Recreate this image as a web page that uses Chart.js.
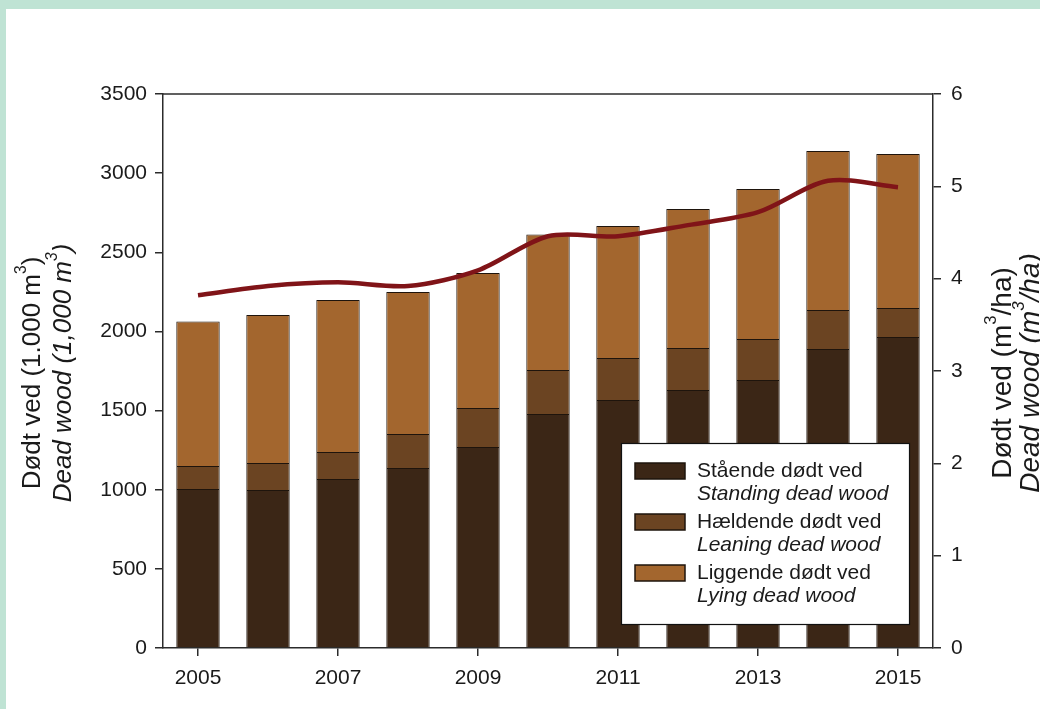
<!DOCTYPE html>
<html>
<head>
<meta charset="utf-8">
<script src="https://cdn.jsdelivr.net/npm/chart.js@4.4.1/dist/chart.umd.min.js"></script>
<style>
  html, body { margin: 0; padding: 0; background: #bfe3d4; width: 1040px; height: 709px; overflow: hidden; }
  #panel { position: absolute; left: 6px; top: 9px; width: 1034px; height: 700px; background: #fff; }
</style>
</head>
<body>
<div id="panel"><canvas id="chart" width="1034" height="700"></canvas></div>
<script>
// data
const years = ['2005', '2006', '2007', '2008', '2009', '2010', '2011', '2012', '2013', '2014', '2015'];
const standing = [1005, 998, 1068, 1137, 1270, 1478, 1567, 1630, 1693, 1889, 1965];
const leaning = [145, 171, 170, 215, 246, 278, 265, 265, 259, 246, 183];
const lying = [912, 935, 960, 897, 853, 856, 834, 878, 948, 1005, 973];
const perHa = [3.82, 3.92, 3.96, 3.92, 4.09, 4.46, 4.46, 4.58, 4.72, 5.06, 4.99];

const legendDa = ['Stående dødt ved', 'Hældende dødt ved', 'Liggende dødt ved'];
const legendEn = ['Standing dead wood', 'Leaning dead wood', 'Lying dead wood'];

const FONT = '"Liberation Sans", Arial, sans-serif';
const AXIS = '#2b2b2b';
const colors = ['#3b2616', '#6b4422', '#a3662e'];

// draws "pre" + superscript + "post" centred on x=0
function supText(ctx, pre, sup, post, size, italic) {
  const f = (s) => (italic ? 'italic ' : '') + s + 'px ' + FONT;
  ctx.font = f(size);
  const w1 = ctx.measureText(pre).width;
  const w3 = ctx.measureText(post).width;
  ctx.font = f(size * 0.6);
  const w2 = ctx.measureText(sup).width;
  let x = -(w1 + w2 + w3) / 2;
  ctx.textAlign = 'left';
  ctx.textBaseline = 'middle';
  ctx.font = f(size);
  ctx.fillText(pre, x, 0);
  x += w1;
  ctx.font = f(size * 0.6);
  ctx.fillText(sup, x, -size * 0.42);
  x += w2;
  ctx.font = f(size);
  ctx.fillText(post, x, 0);
}

function vText(ctx, x, y, pre, sup, post, size, italic) {
  ctx.save();
  ctx.translate(x, y);
  ctx.rotate(-Math.PI / 2);
  supText(ctx, pre, sup, post, size, italic);
  ctx.restore();
}

const decor = {
  id: 'decor',
  afterDraw(chart) {
    const ctx = chart.ctx;
    const a = chart.chartArea;
    const cy = (a.top + a.bottom) / 2 + 2;
    ctx.save();
    // top frame line
    ctx.strokeStyle = AXIS;
    ctx.lineWidth = 1.5;
    ctx.beginPath();
    ctx.moveTo(a.left, a.top);
    ctx.lineTo(a.right, a.top);
    ctx.stroke();

    // axis titles
    ctx.fillStyle = '#1a1a1a';
    vText(ctx, 27, cy, 'Dødt ved (1.000 m', '3', ')', 26, false);
    vText(ctx, 58, cy, 'Dead wood (1,000 m', '3', ')', 26, true);
    vText(ctx, 997, cy, 'Dødt ved (m', '3', '/ha)', 28, false);
    vText(ctx, 1025, cy, 'Dead wood (m', '3', '/ha)', 28, true);

    // legend box
    const bw = 288, bh = 181;
    const bx = a.right - 24 - bw;
    const by = a.bottom - 24 - bh;
    ctx.fillStyle = '#fff';
    ctx.fillRect(bx, by, bw, bh);
    ctx.strokeStyle = '#111';
    ctx.lineWidth = 1.2;
    ctx.strokeRect(bx + 0.5, by + 0.5, bw, bh);
    ctx.textAlign = 'left';
    ctx.textBaseline = 'middle';
    for (let i = 0; i < 3; i++) {
      const y0 = by + 28 + i * 51;
      ctx.fillStyle = colors[i];
      ctx.fillRect(bx + 14, y0 - 8, 50, 16);
      ctx.strokeStyle = '#1e140c';
      ctx.lineWidth = 1.5;
      ctx.strokeRect(bx + 14, y0 - 8, 50, 16);
      ctx.fillStyle = '#1a1a1a';
      ctx.font = '21px ' + FONT;
      ctx.fillText(legendDa[i], bx + 76, y0);
      ctx.font = 'italic 21px ' + FONT;
      ctx.fillText(legendEn[i], bx + 76, y0 + 23.5);
    }
    ctx.restore();
  }
};

const tickFont = { family: FONT, size: 21 };
const gridOpts = { drawOnChartArea: false, tickLength: 8, color: AXIS, lineWidth: 1.5 };
const borderOpts = { display: true, color: AXIS, width: 1.5 };
const plain = (v) => String(v);

new Chart(document.getElementById('chart'), {
  type: 'bar',
  data: {
    labels: years,
    datasets: [
      { type: 'line', label: 'm3/ha', data: perHa, yAxisID: 'y1', borderColor: '#801418',
        borderWidth: 4.5, pointRadius: 0, tension: 0.3, order: 0, fill: false },
      { label: legendDa[0], data: standing, backgroundColor: colors[0], borderColor: '#1e140c',
        borderWidth: 1, yAxisID: 'y', order: 1 },
      { label: legendDa[1], data: leaning, backgroundColor: colors[1], borderColor: '#1e140c',
        borderWidth: 1, yAxisID: 'y', order: 1 },
      { label: legendDa[2], data: lying, backgroundColor: colors[2], borderColor: '#1e140c',
        borderWidth: 1, yAxisID: 'y', order: 1 }
    ]
  },
  options: {
    responsive: false,
    animation: false,
    devicePixelRatio: 1,
    layout: { padding: { top: 85, left: 0, right: 0, bottom: 0 } },
    datasets: { bar: { barPercentage: 0.62, categoryPercentage: 1 } },
    plugins: { legend: { display: false }, tooltip: { enabled: false } },
    scales: {
      x: {
        stacked: true,
        grid: { ...gridOpts, offset: false, color: (c) => (c.index % 2 === 0 ? AXIS : 'rgba(0,0,0,0)') },
        border: borderOpts,
        ticks: {
          font: tickFont, color: '#1a1a1a', padding: 10, maxRotation: 0, autoSkip: false,
          callback: function (v, i) { return i % 2 === 0 ? this.getLabelForValue(v) : ''; }
        },
        afterFit: (s) => { s.height = 61; }
      },
      y: {
        position: 'left', stacked: true, min: 0, max: 3500,
        grid: gridOpts, border: borderOpts,
        ticks: { stepSize: 500, font: tickFont, color: '#1a1a1a', padding: 8, callback: plain },
        afterFit: (s) => { s.width = 157; }
      },
      y1: {
        position: 'right', min: 0, max: 6,
        grid: gridOpts, border: borderOpts,
        ticks: { stepSize: 1, font: tickFont, color: '#1a1a1a', padding: 10, callback: plain },
        afterFit: (s) => { s.width = 107; }
      }
    }
  },
  plugins: [decor]
});
</script>
</body>
</html>
